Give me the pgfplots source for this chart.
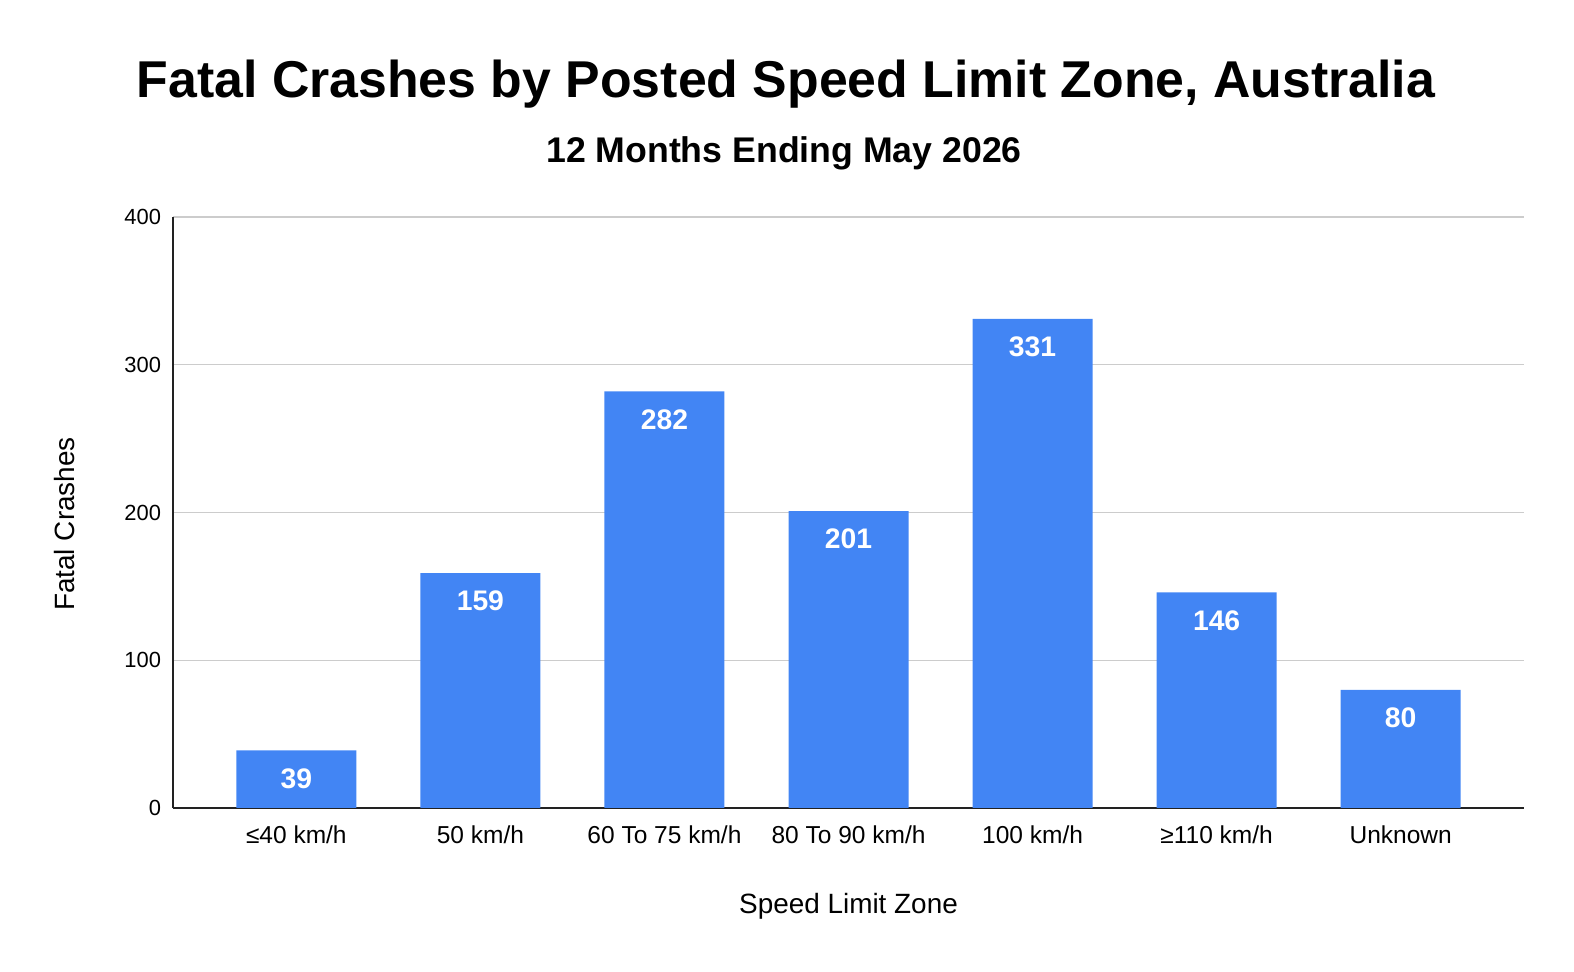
\documentclass[border=0pt]{standalone}
\usepackage{fontspec}
\setmainfont{Liberation Sans}
\usepackage{pgfplots}
\pgfplotsset{compat=1.18}
\definecolor{barblue}{HTML}{4285F4}
\definecolor{gridgray}{HTML}{CCCCCC}
\definecolor{axisdark}{HTML}{222222}
\begin{document}
\begin{tikzpicture}
\path[use as bounding box] (0,0) rectangle (787bp,486bp);
\node[font=\fontsize{26}{30}\selectfont\bfseries] at (393bp,444bp) {Fatal Crashes by Posted Speed Limit Zone, Australia};
\node[font=\fontsize{17.9}{21}\selectfont\bfseries] at (392bp,409.5bp) {12 Months Ending May 2026};
\begin{axis}[
  at={(86.5bp,82bp)}, anchor=south west,
  scale only axis, width=675.5bp, height=295.5bp,
  xmin=-0.67, xmax=6.67, ymin=0, ymax=400,
  ytick={0,100,200,300,400},
  xtick={0,1,2,3,4,5,6},
  xticklabels={{≤40 km/h},{50 km/h},{60 To 75 km/h},{80 To 90 km/h},{100 km/h},{≥110 km/h},{Unknown}},
  /pgf/number format/assume math mode=true,
  yticklabel style={font=\fontsize{11}{13}\selectfont, xshift=-2.5pt},
  xticklabel style={font=\fontsize{12.3}{14}\selectfont, yshift=-5.5pt},
  major tick length=0pt,
  axis lines*=left,
  axis line style={line width=1pt, axisdark},
  ymajorgrids, grid style={gridgray, line width=0.75pt},
  ylabel={Fatal Crashes},
  xlabel={Speed Limit Zone},
  label style={font=\fontsize{14}{16}\selectfont},
  ylabel style={at={(axis description cs:-0.080,0.4805)}, anchor=center, rotate=0},
  xlabel style={at={(axis description cs:0.5,-0.166)}, anchor=center},
  ybar, bar width=0.652,
  nodes near coords,
  nodes near coords style={anchor=center, yshift=-14bp, text=white, font=\fontsize{14.2}{16}\selectfont\bfseries},
]
\addplot[fill=barblue, draw=none] coordinates {(0,39) (1,159) (2,282) (3,201) (4,331) (5,146) (6,80)};
\end{axis}
\end{tikzpicture}
\end{document}
